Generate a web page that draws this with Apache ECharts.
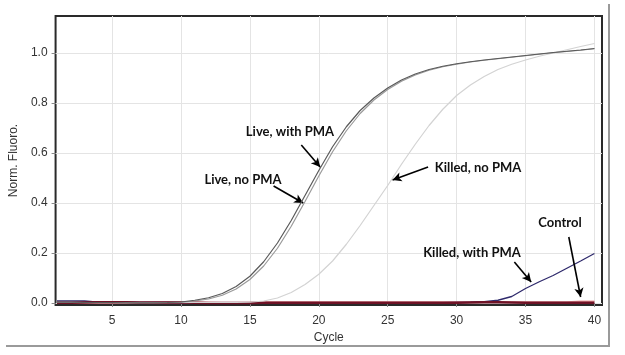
<!DOCTYPE html>
<html><head><meta charset="utf-8">
<script src="https://cdn.jsdelivr.net/npm/echarts@6/dist/echarts.min.js"></script>
<style>html,body{margin:0;padding:0;background:#fff}#c{width:625px;height:355px}</style>
</head><body><div id="c"></div>
<script>
const cycles = Array.from({length:40},(_,i)=>i+1);
const xTicks = [5,10,15,20,25,30,35,40];
const yTicks = [0,0.2,0.4,0.6,0.8,1.0];

const liveNoPMA = [0.003,0.003,0.002,0.002,0.002,0.001,0.001,0.001,0.002,0.004,
  0.011,0.021,0.038,0.066,0.107,0.165,0.240,0.330,0.430,0.530,
  0.625,0.705,0.770,0.820,0.860,0.892,0.916,0.934,0.947,0.957,
  0.965,0.972,0.978,0.984,0.990,0.996,1.002,1.007,1.012,1.018];
const liveWithPMA = [0.003,0.003,0.002,0.002,0.002,0.001,0.001,0.001,0.002,0.003,
  0.008,0.016,0.031,0.056,0.094,0.148,0.219,0.307,0.406,0.508,
  0.605,0.689,0.758,0.812,0.854,0.887,0.912,0.931,0.945,0.955,
  0.964,0.971,0.977,0.983,0.989,0.995,1.001,1.006,1.011,1.017];
const killedNoPMA = [0.002,0.002,0.002,0.002,0.002,0.002,0.002,0.002,0.002,0.002,
  0.002,0.002,0.002,0.002,0.003,0.008,0.020,0.042,0.074,0.115,
  0.168,0.235,0.310,0.390,0.470,0.555,0.635,0.710,0.775,0.830,
  0.872,0.906,0.934,0.955,0.972,0.987,1.000,1.013,1.026,1.038];
const killedWithPMA = [0.008,0.008,0.008,0.003,0.003,0.003,0.002,0.002,0.002,0.001,
  0.001,0.001,0.001,0.001,0.001,0.001,0.001,0.001,0.001,0.001,
  0.001,0.001,0.001,0.001,0.001,0.001,0.001,0.001,0.001,0.002,
  0.003,0.005,0.011,0.026,0.058,0.085,0.110,0.139,0.168,0.198];
const controlDark = [0.001,0.001,0.002,0.003,0.003,0.003,0.002,0.002,0.002,0.002,
  0.001,0.000,0.000,0.000,0.000,0.001,0.001,0.001,0.001,0.001,
  0.001,0.001,0.001,0.001,0.001,0.001,0.001,0.001,0.001,0.001,
  0.002,0.003,0.003,0.002,0.001,0.001,0.001,0.001,0.001,0.001];
const controlLight = [0.000,0.000,0.001,0.001,0.001,0.001,0.001,0.002,0.003,0.003,
  0.003,0.002,0.001,0.001,0.002,0.004,0.004,0.004,0.004,0.004,
  0.004,0.004,0.004,0.004,0.004,0.004,0.004,0.004,0.004,0.004,
  0.004,0.004,0.004,0.004,0.004,0.004,0.004,0.004,0.007,0.007];

// annotation arrows in data coordinates: [fromCycle, fromVal, toCycle, toVal]
const arrows = [
  [18.73,0.632,20.10,0.544],
  [16.72,0.468,18.87,0.400],
  [27.93,0.544,25.35,0.492],
  [34.19,0.164,35.41,0.084],
  [38.14,0.264,39.00,0.024]
];
const labels = [
  {t:'Live, with PMA', x:290, y:132},
  {t:'Live, no PMA', x:243, y:180},
  {t:'Killed, no PMA', x:478, y:168},
  {t:'Killed, with PMA', x:472, y:253},
  {t:'Control', x:560, y:223}
];

const pair = arr => cycles.map((c,i)=>[c,arr[i]]);
function line(name, arr, color, width, z){
  return {name, type:'line', data:pair(arr), showSymbol:false, symbol:'none',
    lineStyle:{color, width}, z, silent:true, animation:false};
}
const series = [
  line('Control light', controlLight, '#efa0a0', 1.3, 2),
  line('Killed, with PMA', killedWithPMA, '#2f2a6c', 1.3, 3),
  line('Control', controlDark, '#6e1226', 2.6, 4),
  line('Killed, no PMA', killedNoPMA, '#d3d3d3', 1.2, 5),
  line('Live, with PMA', liveWithPMA, '#9a9a9a', 1.2, 6),
  line('Live, no PMA', liveNoPMA, '#5a5a5a', 1.2, 7),
  {type:'line', data:[], silent:true, z:10, animation:false,
    markLine:{silent:true, symbol:['none','arrow'], symbolSize:[7,9], animation:false,
      label:{show:false}, lineStyle:{color:'#000', width:1.6, type:'solid'},
      data: arrows.map(a=>[{coord:[a[0],a[1]]},{coord:[a[2],a[3]]}])}}
];

const chart = echarts.init(document.getElementById('c'), null, {renderer:'canvas'});
chart.setOption({
  animation:false,
  backgroundColor:'#fff',
  grid:{left:50, top:16, right:23, bottom:50, show:true, borderColor:'#2a2a2a', borderWidth:2, backgroundColor:'transparent'},
  xAxis:{type:'value', min:0.9, max:40.55, name:'Cycle', nameLocation:'middle', nameGap:27,
    nameTextStyle:{color:'#333', fontSize:12, fontFamily:'Liberation Sans'},
    axisLine:{show:false},
    axisTick:{show:true, customValues:xTicks, length:4, lineStyle:{color:'#888'}},
    axisLabel:{customValues:xTicks, color:'#333', fontSize:12, margin:10, fontFamily:'Liberation Sans'},
    splitLine:{show:true, lineStyle:{color:'#e4e4e4', width:1}}},
  yAxis:{type:'value', min:-0.008, max:1.148, name:'Norm. Fluoro.', nameLocation:'middle', nameGap:30,
    nameTextStyle:{color:'#333', fontSize:12, fontFamily:'Liberation Sans'},
    axisLine:{show:false},
    axisTick:{show:true, customValues:yTicks, length:4, lineStyle:{color:'#888'}},
    axisLabel:{customValues:yTicks, color:'#333', fontSize:12, margin:8, fontFamily:'Liberation Sans',
      formatter:v=>v.toFixed(1)},
    splitLine:{show:true, lineStyle:{color:'#e4e4e4', width:1}}},
  series,
  graphic:[
    {type:'line', shape:{x1:609, y1:4, x2:609, y2:346}, style:{stroke:'#9a9a9a', lineWidth:2}, silent:true},
    {type:'line', shape:{x1:6, y1:346, x2:610, y2:346}, style:{stroke:'#9a9a9a', lineWidth:2}, silent:true},
    ...labels.map(l=>({type:'text', x:l.x, y:l.y, z:20, silent:true,
      style:{text:l.t, fill:'#111', font:'bold 13px Lato', textAlign:'center', textVerticalAlign:'middle'}}))
  ]
});
</script></body></html>
